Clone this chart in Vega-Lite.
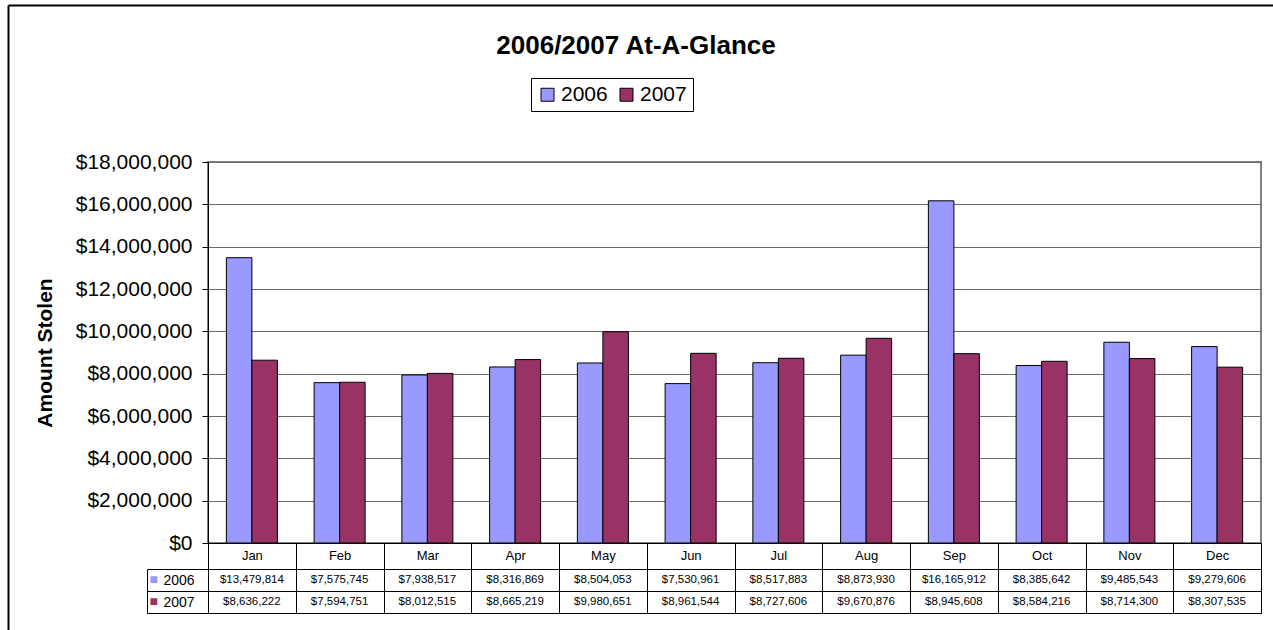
{
  "$schema": "https://vega.github.io/schema/vega-lite/v6.json",
  "padding": {"left": 7, "top": 4, "right": 0, "bottom": 0},
  "title": {"text": "2006/2007 At-A-Glance", "fontSize": 26, "fontWeight": "bold", "anchor": "middle", "color": "black", "offset": -55, "dx": -105},
  "data": {"values": [
    {"month": "Jan", "series": "2006", "value": 13479814},
    {"month": "Feb", "series": "2006", "value": 7575745},
    {"month": "Mar", "series": "2006", "value": 7938517},
    {"month": "Apr", "series": "2006", "value": 8316869},
    {"month": "May", "series": "2006", "value": 8504053},
    {"month": "Jun", "series": "2006", "value": 7530961},
    {"month": "Jul", "series": "2006", "value": 8517883},
    {"month": "Aug", "series": "2006", "value": 8873930},
    {"month": "Sep", "series": "2006", "value": 16165912},
    {"month": "Oct", "series": "2006", "value": 8385642},
    {"month": "Nov", "series": "2006", "value": 9485543},
    {"month": "Dec", "series": "2006", "value": 9279606},
    {"month": "Jan", "series": "2007", "value": 8636222},
    {"month": "Feb", "series": "2007", "value": 7594751},
    {"month": "Mar", "series": "2007", "value": 8012515},
    {"month": "Apr", "series": "2007", "value": 8665219},
    {"month": "May", "series": "2007", "value": 9980651},
    {"month": "Jun", "series": "2007", "value": 8961544},
    {"month": "Jul", "series": "2007", "value": 8727606},
    {"month": "Aug", "series": "2007", "value": 9670876},
    {"month": "Sep", "series": "2007", "value": 8945608},
    {"month": "Oct", "series": "2007", "value": 8584216},
    {"month": "Nov", "series": "2007", "value": 8714300},
    {"month": "Dec", "series": "2007", "value": 8307535}
  ]},
  "bounds": "flush",
  "spacing": 26,
  "vconcat": [
    {
      "width": 1053,
      "height": 381,
      "view": {"stroke": "#808080", "strokeWidth": 2},
      "layer": [
        {
          "mark": {"type": "bar", "stroke": "black", "strokeWidth": 1},
          "encoding": {
            "x": {"field": "month", "type": "nominal",
              "sort": ["Jan","Feb","Mar","Apr","May","Jun","Jul","Aug","Sep","Oct","Nov","Dec"],
              "scale": {"paddingInner": 0, "paddingOuter": 0},
              "axis": {"orient": "bottom", "title": null, "labelAngle": 0, "labelFontSize": 13, "labelColor": "black", "tickBand": "extent", "tickSize": 26, "tickColor": "black", "domainColor": "black", "labelPadding": -20, "labelBaseline": "top"}},
            "xOffset": {"field": "series", "type": "nominal", "scale": {"paddingOuter": 0.72, "paddingInner": 0}},
            "y": {"field": "value", "type": "quantitative",
              "scale": {"domain": [0, 18000000]},
              "axis": {"orient": "left", "title": "Amount Stolen", "titleFontSize": 21, "titleFontWeight": "bold", "titleColor": "black", "titlePadding": 20,
                "values": [0,2000000,4000000,6000000,8000000,10000000,12000000,14000000,16000000,18000000],
                "format": "$,.0f", "labelFontSize": 21, "labelColor": "black", "labelPadding": 10,
                "tickSize": 6, "tickColor": "black", "domainColor": "black",
                "grid": true, "gridColor": "#6b6b6b", "gridOpacity": 1}},
            "color": {"field": "series", "type": "nominal",
              "scale": {"domain": ["2006","2007"], "range": ["#9999FF","#993366"]},
              "legend": {"title": null, "orient": "none", "legendX": 323, "legendY": -84, "direction": "horizontal",
                "strokeColor": "black", "padding": 6, "labelFontSize": 21, "labelColor": "black", "symbolType": "square", "symbolSize": 169,
                "symbolStrokeColor": "black", "symbolStrokeWidth": 1, "symbolOpacity": 1, "columnPadding": 8, "labelOffset": 3}}
          }
        },
        {
          "mark": {"type": "point", "opacity": 0},
          "encoding": {
            "x": {"field": "value", "type": "quantitative",
              "scale": {"range": [-200, 1066], "zero": false},
              "axis": {"orient": "top", "offset": 157, "title": null, "labels": false, "ticks": false, "grid": false, "domain": true, "domainColor": "black", "domainWidth": 2}},
            "y": {"field": "value", "type": "quantitative",
              "scale": {"range": [470, -157], "zero": false},
              "axis": {"orient": "left", "offset": 200, "title": null, "labels": false, "ticks": false, "grid": false, "domain": true, "domainColor": "black", "domainWidth": 2}}
          }
        }
      ],
      "resolve": {"scale": {"x": "independent", "y": "independent"}, "axis": {"x": "independent", "y": "independent"}}
    },
    {
      "width": 1053,
      "height": 44,
      "view": {"stroke": "black", "strokeWidth": 1},
      "layer": [
        {
          "mark": {"type": "text", "fontSize": 11.5, "color": "black"},
          "encoding": {
            "x": {"field": "month", "type": "nominal",
              "sort": ["Jan","Feb","Mar","Apr","May","Jun","Jul","Aug","Sep","Oct","Nov","Dec"],
              "scale": {"paddingInner": 0, "paddingOuter": 0},
              "axis": {"title": null, "labels": false, "ticks": false, "domain": false, "grid": true, "gridColor": "black", "gridOpacity": 1, "tickBand": "extent"}},
            "y": {"field": "series", "type": "nominal", "sort": ["2006","2007"],
              "scale": {"paddingInner": 0, "paddingOuter": 0},
              "axis": {"orient": "left", "title": null, "domain": false, "ticks": true, "tickBand": "extent", "tickSize": 61, "tickColor": "black",
                "grid": true, "gridColor": "black", "gridOpacity": 1, "labelAlign": "left", "labelPadding": -16, "labelFontSize": 14, "labelColor": "black"}},
            "text": {"field": "value", "type": "quantitative", "format": "$,.0f"}
          }
        },
        {
          "mark": {"type": "tick", "opacity": 0},
          "encoding": {
            "y": {"field": "series", "type": "nominal", "sort": ["2006","2007"],
              "scale": {"paddingInner": 0, "paddingOuter": 0},
              "axis": {"orient": "left", "offset": 61, "title": null, "domain": true, "domainColor": "black", "ticks": false, "grid": false,
                "labelExpr": "'■'", "labelAlign": "left", "labelPadding": -2, "labelFontSize": 14,
                "labelColor": {"condition": {"test": "datum.value == '2006'", "value": "#9999FF"}, "value": "#993366"}}}
          }
        }
      ],
      "resolve": {"scale": {"y": "independent"}, "axis": {"y": "independent"}}
    }
  ],
  "config": {"font": "Liberation Sans", "axis": {"labelFont": "Liberation Sans", "titleFont": "Liberation Sans"}, "legend": {"labelFont": "Liberation Sans"}, "title": {"font": "Liberation Sans"}}
}
